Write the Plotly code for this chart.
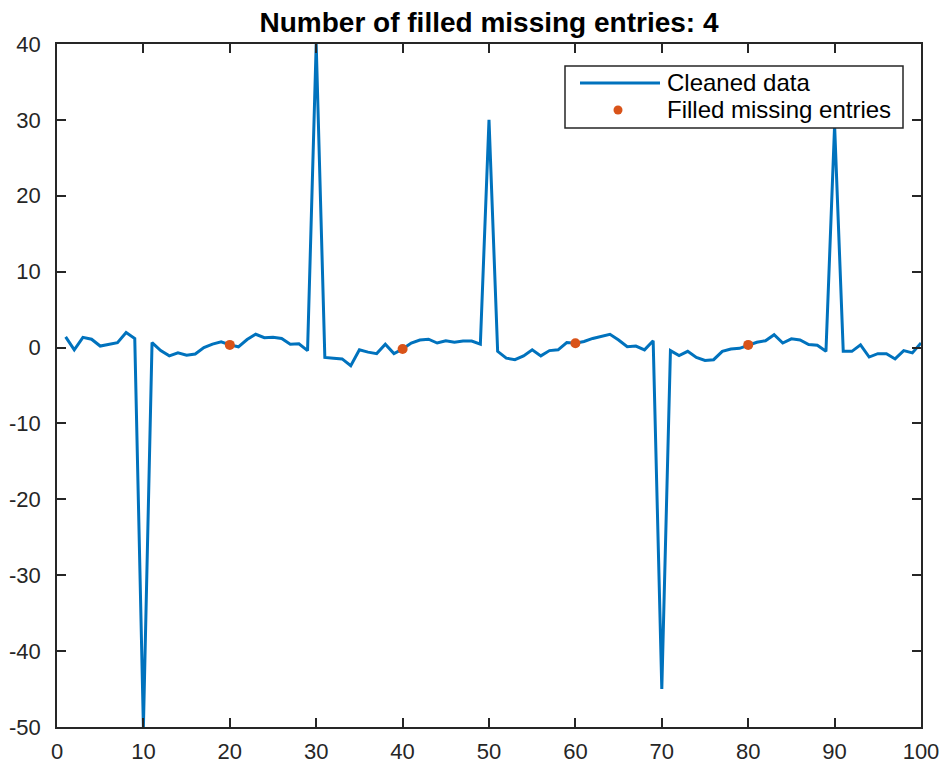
import plotly.graph_objects as go

x_vals = list(range(1, 101))
cleaned = [
    1.4, -0.3, 1.35, 1.1, 0.2, 0.45, 0.65, 1.97, 1.2, -50.0,
    0.65, -0.4, -1.1, -0.7, -1.0, -0.85, 0.0, 0.45, 0.75, 0.35,
    0.1, 1.05, 1.75, 1.3, 1.35, 1.2, 0.45, 0.5, -0.4, 40.0,
    -1.3, -1.4, -1.5, -2.4, -0.3, -0.6, -0.8, 0.45, -0.8, -0.2,
    0.6, 1.0, 1.1, 0.6, 0.9, 0.7, 0.85, 0.85, 0.45, 30.0,
    -0.5, -1.4, -1.6, -1.1, -0.3, -1.1, -0.4, -0.3, 0.65, 0.57,
    0.8, 1.2, 1.5, 1.75, 1.0, 0.1, 0.2, -0.3, 0.9, -45.0,
    -0.4, -1.05, -0.5, -1.3, -1.7, -1.6, -0.5, -0.2, -0.1, 0.35,
    0.7, 0.9, 1.7, 0.6, 1.15, 1.0, 0.4, 0.3, -0.5, 29.3,
    -0.5, -0.5, 0.35, -1.25, -0.8, -0.8, -1.5, -0.4, -0.7, 0.6,
]
filled_x = [20, 40, 60, 80]
filled_y = [0.35, -0.2, 0.57, 0.35]

x_ticks = list(range(0, 101, 10))
y_ticks = list(range(-50, 41, 10))
x_tick_labels = [str(v) for v in x_ticks]
y_tick_labels = [str(v) for v in y_ticks]
legend_labels = ["Cleaned data", "Filled missing entries"]

LINE_COLOR = "#0072BD"
DOT_COLOR = "#D95319"

W, H = 941, 760  # page body has an 8px margin
L, R, T, B = 49, 28, 36, 41
PW, PH = W - L - R, H - T - B


def px(fx):
    return (fx - L) / PW


def py(fy):
    return (H - B - fy) / PH


fig = go.Figure()
fig.add_trace(go.Scatter(
    x=x_vals, y=cleaned, mode="lines", name=legend_labels[0],
    line=dict(color=LINE_COLOR, width=3), showlegend=False,
))
fig.add_trace(go.Scatter(
    x=filled_x, y=filled_y, mode="markers", name=legend_labels[1],
    marker=dict(color=DOT_COLOR, size=10), showlegend=False,
))

axis_common = dict(
    showgrid=False, zeroline=False, showline=True, linecolor="#262626",
    linewidth=1.5, mirror="ticks", ticks="inside", ticklen=9,
    tickcolor="#262626", tickwidth=1.5, automargin=False,
    tickfont=dict(family="Liberation Sans, Arial, sans-serif", size=22, color="#262626"),
)

# legend box (drawn in figure pixels converted to paper coords)
box_x0, box_y0, box_x1, box_y1 = 557, 58, 895, 120
row1_y, row2_y = 75, 102
shapes = [
    dict(type="rect", xref="paper", yref="paper",
         x0=px(box_x0), x1=px(box_x1), y0=py(box_y1), y1=py(box_y0),
         line=dict(color="#262626", width=1.5), fillcolor="white", layer="above"),
    dict(type="line", xref="paper", yref="paper",
         x0=px(572), x1=px(652), y0=py(row1_y), y1=py(row1_y),
         line=dict(color=LINE_COLOR, width=3), layer="above"),
    dict(type="circle", xref="paper", yref="paper",
         x0=px(610 - 4.5), x1=px(610 + 4.5), y0=py(row2_y + 4.5), y1=py(row2_y - 4.5),
         line=dict(color=DOT_COLOR, width=0), fillcolor=DOT_COLOR, layer="above"),
]
annotations = [
    dict(text=legend_labels[0], xref="paper", yref="paper", x=px(657), y=py(row1_y),
         xanchor="left", yanchor="middle", showarrow=False,
         font=dict(family="Liberation Sans, Arial, sans-serif", size=24, color="black")),
    dict(text=legend_labels[1], xref="paper", yref="paper", x=px(657), y=py(row2_y),
         xanchor="left", yanchor="middle", showarrow=False,
         font=dict(family="Liberation Sans, Arial, sans-serif", size=24, color="black")),
]

fig.update_layout(
    width=W, height=H,
    margin=dict(l=L, r=R, t=T, b=B),
    paper_bgcolor="white", plot_bgcolor="white",
    title=dict(
        text="<b>Number of filled missing entries: 4</b>",
        x=(L + W - R) / 2 / W, xanchor="center",
        y=1 - 14 / H, yanchor="middle",
        font=dict(family="Liberation Sans, Arial, sans-serif", size=28, color="black"),
    ),
    xaxis=dict(range=[0, 100], tickvals=x_ticks, ticktext=x_tick_labels,
               ticklabelstandoff=4, **axis_common),
    yaxis=dict(range=[-50, 40], tickvals=y_ticks, ticktext=y_tick_labels,
               ticklabelstandoff=10, **axis_common),
    shapes=shapes,
    annotations=annotations,
    showlegend=False,
)

fig.write_html("out.html")
